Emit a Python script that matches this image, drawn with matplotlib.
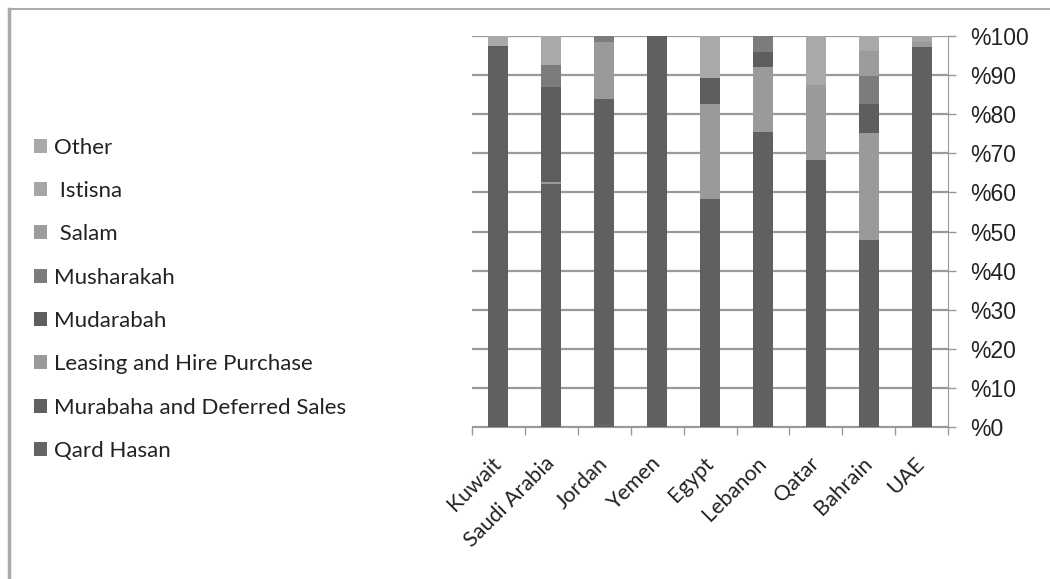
import matplotlib
matplotlib.use("Agg")
import matplotlib.pyplot as plt
from matplotlib.patches import Patch
import numpy as np

# data (percent shares per country)
countries = ['Kuwait', 'Saudi Arabia', 'Jordan', 'Yemen', 'Egypt', 'Lebanon', 'Qatar', 'Bahrain', 'UAE']
series = ['Qard Hasan', 'Murabaha and Deferred Sales', 'Leasing and Hire Purchase', 'Mudarabah',
          'Musharakah', ' Salam', ' Istisna', 'Other']
qard_hasan = [0, 0, 0.8, 0, 0, 0, 0, 0, 0]
murabaha = [97.5, 62.2, 83.1, 100, 58.3, 75.4, 68.2, 47.8, 97.1]
leasing = [0, 0.5, 14.6, 0, 24.2, 16.6, 19.3, 27.4, 1.3]
mudarabah = [0, 24.3, 0, 0, 6.8, 3.8, 0, 7.3, 0]
musharakah = [0, 5.5, 1.5, 0, 0, 4.2, 0, 7.2, 0]
salam = [0, 0, 0, 0, 0, 0, 0, 6.4, 0]
istisna = [0, 0, 0, 0, 0, 0, 0, 0, 1.6]
other = [2.5, 7.5, 0, 0, 10.7, 0, 12.5, 3.9, 0]
colors = ['#646464', '#606060', '#9a9a9a', '#5e5e5e', '#7c7c7c', '#9c9c9c', '#a6a6a6', '#a9a9a9']
yticks = [0, 10, 20, 30, 40, 50, 60, 70, 80, 90, 100]

values = [qard_hasan, murabaha, leasing, mudarabah, musharakah, salam, istisna, other]

plt.rcParams['font.family'] = 'Lato'

fig = plt.figure(figsize=(10.5, 5.79), dpi=100)
ax = fig.add_axes([0.4495, 0.2625, 0.4535, 0.6753])

x = np.arange(len(countries))
bottom = np.zeros(len(countries))
for vals, col in zip(values, colors):
    ax.bar(x, vals, width=0.38, bottom=bottom, color=col, zorder=3)
    bottom += np.array(vals)

ax.set_xlim(-0.5, len(countries) - 0.5)
ax.set_ylim(0, 100)
ax.yaxis.tick_right()
ax.set_yticks(yticks)
ax.set_yticklabels(['%' + str(v) for v in yticks])
ax.tick_params(axis='y', length=6, color='#999999', width=1, pad=10,
               labelsize=16.5, labelcolor='#222222', labelfontfamily='Liberation Sans')
ax.grid(axis='y', color='#9a9a9a', linewidth=1.6, zorder=0)

ax.set_xticks(x)
ax.set_xticklabels(countries, rotation=45, ha='right', va='center', rotation_mode='anchor',
                   fontsize=15.5, color='#222222')
ax.tick_params(axis='x', length=0, pad=24)
ax.set_xticks(np.arange(-0.5, len(countries)), minor=True)
ax.tick_params(axis='x', which='minor', length=6, color='#999999', width=1)

for side in ['top', 'left']:
    ax.spines[side].set_visible(False)
ax.spines['bottom'].set_color('#999999')
ax.spines['right'].set_color('#999999')

# legend, listed top to bottom in reverse stack order
handles = [Patch(facecolor=c, edgecolor='none') for c in colors][::-1]
labels = series[::-1]
leg = fig.legend(handles, labels, loc='upper left', bbox_to_anchor=(0.013, 0.797), frameon=False,
                 prop={'size': 16}, labelspacing=1.05, handlelength=0.6,
                 handleheight=0.6, handletextpad=0.3)
for t in leg.get_texts():
    t.set_color('#222222')

# outer frame lines
fig.add_artist(plt.Line2D([0.0086, 0.0086], [0, 0.985], transform=fig.transFigure, color='#aaaaaa', linewidth=2.5))
fig.add_artist(plt.Line2D([0.0086, 1], [0.985, 0.985], transform=fig.transFigure, color='#aaaaaa', linewidth=1.5))

fig.savefig('out.png', dpi=100)
